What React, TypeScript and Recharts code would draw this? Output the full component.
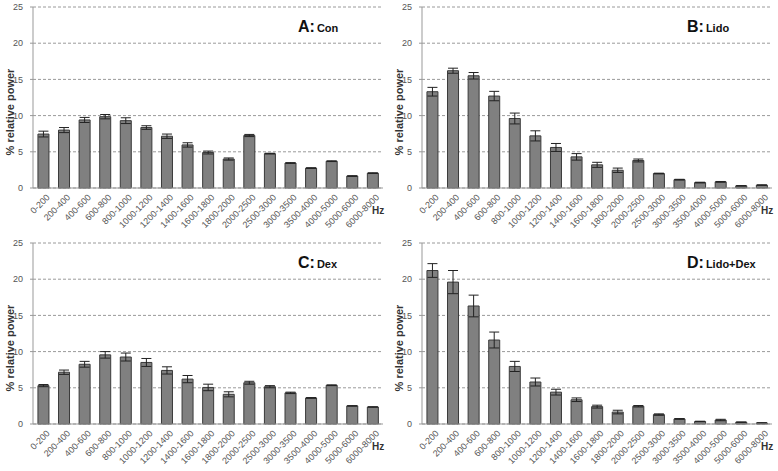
import React from 'react';
import { BarChart, Bar, XAxis, YAxis, CartesianGrid, ErrorBar } from 'recharts';

const bands = [
  '0-200', '200-400', '400-600', '600-800', '800-1000', '1000-1200', '1200-1400',
  '1400-1600', '1600-1800', '1800-2000', '2000-2500', '2500-3000', '3000-3500',
  '3500-4000', '4000-5000', '5000-6000', '6000-8000',
];

const conMean = [7.45, 8.0, 9.4, 9.85, 9.3, 8.35, 7.15, 5.95, 4.9, 4.0, 7.25, 4.75, 3.45, 2.75, 3.7, 1.65, 2.05];
const conErr = [0.4, 0.35, 0.35, 0.3, 0.4, 0.25, 0.3, 0.3, 0.2, 0.15, 0.15, 0.05, 0.05, 0.05, 0.05, 0.05, 0.05];

const lidoMean = [13.3, 16.2, 15.5, 12.7, 9.6, 7.2, 5.6, 4.3, 3.2, 2.45, 3.8, 2.0, 1.15, 0.75, 0.85, 0.3, 0.4];
const lidoErr = [0.6, 0.35, 0.45, 0.65, 0.75, 0.7, 0.55, 0.45, 0.35, 0.3, 0.2, 0.05, 0.05, 0.05, 0.05, 0.03, 0.03];

const dexMean = [5.3, 7.15, 8.25, 9.55, 9.25, 8.5, 7.4, 6.2, 5.05, 4.1, 5.7, 5.15, 4.3, 3.6, 5.35, 2.5, 2.35];
const dexErr = [0.15, 0.3, 0.4, 0.45, 0.55, 0.55, 0.5, 0.5, 0.45, 0.35, 0.2, 0.15, 0.1, 0.05, 0.05, 0.03, 0.03];

const ldMean = [21.2, 19.6, 16.3, 11.6, 7.95, 5.8, 4.4, 3.35, 2.4, 1.65, 2.45, 1.3, 0.7, 0.35, 0.55, 0.25, 0.15];
const ldErr = [0.95, 1.6, 1.5, 1.1, 0.7, 0.55, 0.4, 0.25, 0.2, 0.25, 0.1, 0.1, 0.05, 0.03, 0.1, 0.02, 0.02];

const yTicks = [0, 5, 10, 15, 20, 25];

const FONT = '"Liberation Sans", Arial, sans-serif';

const XTick = (props: any) => {
  const { x, y, payload } = props;
  return (
    <g transform={`translate(${x + 7},${y + 2})`}>
      <text transform="rotate(-45)" textAnchor="end" fontSize={9} fill="#555" fontFamily={FONT}>
        {payload.value}
      </text>
    </g>
  );
};

interface PanelProps {
  letter: string;
  name: string;
  mean: number[];
  err: number[];
}

const Panel: React.FC<PanelProps> = ({ letter, name, mean, err }) => {
  const rows = bands.map((b, i) => ({ band: b, value: mean[i], err: err[i] }));
  return (
    <div style={{ position: 'relative', width: 389, height: 235 }}>
      <BarChart
        width={389}
        height={235}
        data={rows}
        margin={{ top: 7, right: 6, bottom: 0, left: 0 }}
        barCategoryGap="24%"
      >
        <CartesianGrid vertical={false} stroke="#9a9a9a" strokeDasharray="3 2" />
        <XAxis
          dataKey="band"
          interval={0}
          height={47}
          tick={<XTick />}
          tickLine={false}
          axisLine={{ stroke: '#999' }}
        />
        <YAxis
          width={33}
          domain={[0, 25]}
          ticks={yTicks}
          tickSize={3}
          tickMargin={7}
          tick={{ fontSize: 9, fill: '#555', fontFamily: FONT }}
          tickLine={{ stroke: '#999' }}
          axisLine={{ stroke: '#999' }}
        />
        <Bar dataKey="value" fill="#808080" stroke="#3a3a3a" strokeWidth={1} isAnimationActive={false}>
          <ErrorBar dataKey="err" width={5} stroke="#222" strokeWidth={1} />
        </Bar>
      </BarChart>
      <div
        style={{
          position: 'absolute', left: 2, top: 112, width: 0, height: 0,
        }}
      >
        <div
          style={{
            position: 'absolute', transform: 'translate(-50%, -50%) rotate(-90deg)',
            left: 8, top: 0, whiteSpace: 'nowrap', fontFamily: FONT, fontWeight: 'bold',
            fontSize: 11, color: '#333',
          }}
        >
          % relative power
        </div>
      </div>
      <div
        style={{
          position: 'absolute', left: 298, top: 19, fontFamily: FONT, fontWeight: 'bold',
          color: '#111', whiteSpace: 'nowrap', lineHeight: 1,
        }}
      >
        <span style={{ fontSize: 16 }}>{letter}:</span>
        <span style={{ fontSize: 11, marginLeft: 2 }}>{name}</span>
      </div>
      <div
        style={{
          position: 'absolute', left: 372, top: 205, fontFamily: FONT, fontWeight: 'bold',
          fontSize: 10, color: '#333',
        }}
      >
        Hz
      </div>
    </div>
  );
};

export default function App() {
  return (
    <div
      style={{
        position: 'absolute', left: 0, top: 0, width: 778, height: 471, background: '#fff',
        display: 'grid', gridTemplateColumns: '389px 389px', gridTemplateRows: '236px 235px',
      }}
    >
      <Panel letter="A" name="Con" mean={conMean} err={conErr} />
      <Panel letter="B" name="Lido" mean={lidoMean} err={lidoErr} />
      <Panel letter="C" name="Dex" mean={dexMean} err={dexErr} />
      <Panel letter="D" name="Lido+Dex" mean={ldMean} err={ldErr} />
    </div>
  );
}
